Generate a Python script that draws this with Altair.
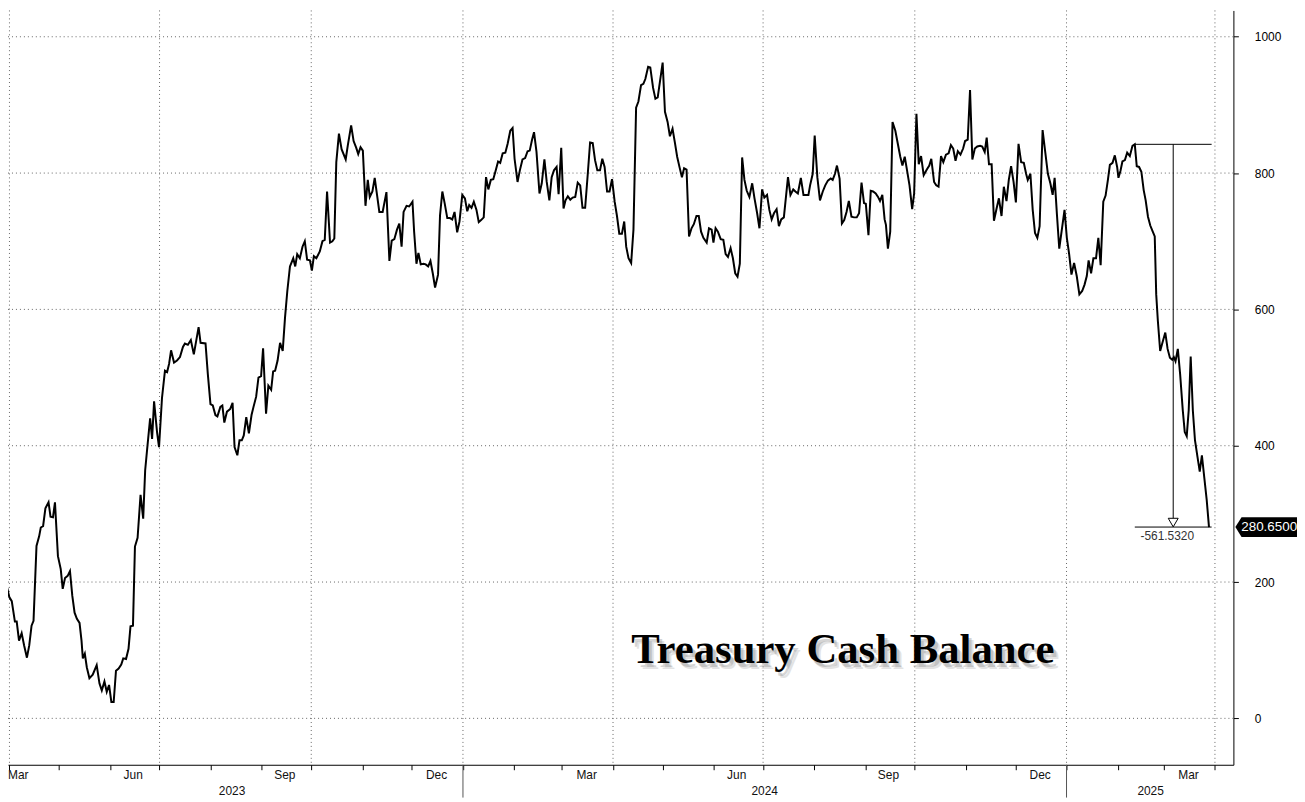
import altair as alt
import pandas as pd

# ---------------- data ----------------
START = pd.Timestamp("2023-03-26 07:00")

day_offset = [
    0.0, 1.0, 2.8, 4.0, 5.6, 7.1, 9.0, 10.1, 11.5, 13.1, 14.6, 16.3, 17.7, 19.1, 20.3, 22.1, 23.7, 24.7, 26.1, 27.5,
    29.4, 30.6, 32.1, 33.3, 35.1, 36.8, 38.0, 39.4, 41.0, 42.4, 43.8, 45.2, 46.6, 48.2, 49.4, 50.2, 51.4, 52.6, 54.2, 56.2,
    58.6, 60.3, 61.7, 63.3, 64.7, 66.1, 67.5, 68.9, 70.3, 71.9, 73.5, 74.7, 76.4, 77.9, 79.1, 80.6, 81.8, 83.4, 85.2, 86.8,
    88.0, 89.2, 91.0, 92.2, 93.4, 95.2, 96.4, 98.2, 100.0, 101.3, 102.5, 103.7, 105.5, 107.3, 109.1, 110.9, 112.1, 113.9, 115.7, 117.5,
    120.4, 121.6, 124.6, 126.0, 127.6, 129.0, 130.6, 131.8, 133.6, 134.8, 136.0, 137.6, 139.6, 141.0, 142.2, 143.9, 145.2, 146.6, 147.8, 149.3,
    150.9, 152.5, 153.7, 155.3, 156.7, 158.3, 159.5, 161.3, 162.7, 164.4, 165.6, 166.8, 168.3, 169.8, 171.4, 172.8, 174.2, 175.8, 177.8, 179.0,
    180.2, 181.8, 183.4, 184.8, 186.2, 187.9, 189.1, 190.3, 191.8, 193.9, 195.5, 196.9, 198.3, 200.1, 201.5, 202.7, 203.9, 205.5, 207.1, 209.6,
    210.9, 212.9, 214.4, 216.0, 217.2, 218.6, 220.0, 221.6, 223.0, 224.2, 225.8, 227.2, 228.6, 230.0, 232.0, 234.3, 236.1, 237.5, 239.1, 240.7,
    242.1, 243.5, 244.7, 246.5, 248.1, 250.1, 251.1, 252.5, 253.7, 255.1, 256.8, 258.1, 259.6, 261.0, 262.4, 263.8, 265.6, 266.8, 268.2, 269.6,
    271.2, 272.8, 274.2, 275.6, 277.2, 278.6, 280.3, 281.9, 283.3, 284.5, 285.9, 287.3, 288.9, 290.3, 291.7, 293.3, 294.7, 296.1, 297.6, 299.1,
    300.6, 302.0, 303.3, 304.8, 306.4, 307.8, 309.4, 310.8, 312.0, 313.8, 315.2, 316.8, 318.4, 319.9, 321.2, 322.6, 323.8, 325.3, 327.1, 328.5,
    330.1, 331.5, 333.1, 334.5, 335.9, 337.5, 338.7, 340.3, 341.7, 342.9, 344.3, 345.8, 347.2, 348.8, 350.3, 351.8, 353.2, 354.8, 356.4, 357.8,
    359.4, 360.8, 362.2, 363.8, 365.2, 366.6, 368.1, 369.6, 371.1, 372.7, 374.1, 375.5, 377.1, 378.5, 379.7, 381.1, 382.7, 384.1, 385.7, 387.1,
    388.7, 390.1, 391.3, 393.0, 394.3, 396.0, 397.4, 398.8, 400.2, 401.8, 403.2, 404.8, 406.2, 407.8, 409.2, 410.6, 412.1, 413.5, 414.8, 416.3,
    417.8, 419.3, 420.7, 422.3, 423.7, 425.1, 426.5, 428.5, 429.9, 431.5, 432.6, 433.9, 435.3, 437.0, 438.6, 440.0, 441.4, 443.0, 444.4, 445.8,
    447.2, 448.6, 450.0, 451.4, 452.8, 454.4, 456.1, 457.5, 459.1, 460.5, 462.1, 463.5, 465.1, 466.5, 467.9, 469.3, 470.9, 472.3, 473.7, 475.3,
    477.8, 479.3, 481.0, 482.3, 483.8, 485.6, 487.2, 488.6, 490.2, 491.2, 492.8, 494.0, 495.6, 497.2, 498.9, 500.4, 502.0, 503.7, 504.9, 506.3,
    507.5, 509.1, 510.5, 511.9, 513.3, 514.7, 516.3, 517.9, 519.5, 520.9, 522.4, 523.9, 525.0, 526.6, 528.0, 529.4, 531.0, 532.4, 533.6, 535.0,
    536.4, 537.2, 538.4, 539.8, 541.2, 542.9, 544.4, 545.9, 547.2, 548.6, 549.8, 551.5, 553.1, 554.3, 555.7, 557.1, 558.5, 560.1, 561.9, 563.5,
    564.7, 566.4, 567.7, 569.1, 570.6, 572.0, 573.6, 575.2, 576.6, 578.0, 579.4, 580.8, 582.4, 584.0, 585.2, 586.8, 588.2, 589.6, 591.1, 592.6,
    594.3, 595.6, 597.1, 598.3, 599.7, 601.3, 602.7, 604.3, 605.7, 607.3, 608.7, 610.3, 611.7, 613.1, 614.6, 616.0, 617.6, 619.2, 620.8, 622.2,
    623.2, 624.8, 626.2, 627.6, 629.0, 630.4, 632.2, 633.9, 635.4, 636.9, 638.3, 639.5, 640.9, 642.3, 643.7, 645.5, 646.9, 648.3, 649.7, 651.3,
    652.9, 654.5, 656.2, 657.6, 659.0, 660.1, 661.6, 663.0, 664.6, 666.0, 667.4, 669.0, 670.4, 671.8, 673.0, 674.6, 676.0, 677.4, 678.2, 679.4,
    680.6, 682.1, 683.5, 685.1, 686.7, 688.1, 689.3, 690.7, 692.1, 693.5, 694.7, 696.1, 697.5, 699.0, 700.2, 701.1, 702.1, 703.5, 705.2, 706.6,
    708.0, 709.4, 710.8, 711.8, 712.8, 714.2, 715.6, 717.2, 718.4, 719.6, 720.8, 722.0, 723.3, 724.6, 726.1, 727.5, 728.8, 730.3, 731.7, 733.1,
]

cash_balance = [
    200, 166, 165, 195, 178, 172, 142, 142, 114, 125, 107, 89, 107, 136, 143, 253, 267, 280, 282, 308,
    317, 296, 295, 317, 238, 219, 190, 206, 209, 216, 180, 155, 146, 140, 114, 88, 95, 75, 59, 64,
    78, 51, 41, 54, 39, 49, 24, 24, 70, 73, 79, 88, 87, 102, 135, 136, 252, 265, 328, 293,
    364, 395, 440, 410, 465, 420, 398, 470, 510, 508, 520, 540, 522, 525, 530, 545, 550, 548, 555, 534,
    574, 551, 550, 505, 461, 459, 445, 443, 457, 459, 434, 450, 454, 463, 398, 386, 408, 408, 415, 442,
    418, 445, 457, 472, 500, 502, 543, 447, 488, 482, 509, 510, 525, 551, 539, 588, 627, 663, 675, 663,
    681, 675, 692, 700, 673, 672, 657, 678, 675, 685, 700, 702, 773, 698, 700, 704, 816, 858, 835, 820,
    841, 870, 847, 837, 828, 838, 833, 752, 790, 765, 773, 793, 768, 743, 743, 772, 671, 701, 703, 717,
    726, 692, 743, 752, 751, 758, 714, 667, 683, 666, 667, 666, 663, 671, 653, 632, 651, 738, 773, 756,
    734, 734, 732, 743, 713, 729, 768, 763, 744, 753, 749, 758, 746, 728, 731, 735, 794, 776, 790, 791,
    804, 817, 815, 829, 830, 843, 862, 866, 821, 787, 804, 820, 822, 832, 833, 849, 860, 831, 770, 785,
    820, 787, 760, 794, 804, 809, 769, 837, 748, 760, 766, 761, 764, 765, 786, 782, 749, 749, 799, 845,
    844, 819, 804, 804, 821, 809, 773, 773, 791, 758, 737, 711, 711, 729, 692, 675, 668, 717, 896, 905,
    929, 931, 938, 956, 955, 925, 909, 911, 935, 962, 890, 875, 854, 865, 845, 824, 808, 794, 807, 805,
    707, 719, 725, 737, 737, 714, 705, 698, 719, 717, 698, 719, 714, 703, 702, 681, 677, 690, 675, 653,
    648, 667, 823, 790, 774, 765, 785, 763, 741, 719, 776, 764, 768, 746, 732, 741, 747, 722, 732, 735,
    794, 768, 776, 773, 770, 793, 768, 768, 768, 782, 799, 855, 794, 760, 773, 782, 789, 792, 790, 799,
    811, 792, 726, 731, 743, 759, 736, 735, 735, 741, 786, 756, 755, 709, 774, 773, 770, 765, 759, 768,
    732, 724, 689, 714, 875, 862, 843, 824, 811, 824, 807, 782, 747, 770, 887, 813, 825, 797, 805, 811,
    821, 787, 782, 780, 825, 816, 827, 829, 841, 836, 818, 832, 827, 836, 847, 849, 922, 820, 836, 839,
    840, 839, 831, 852, 813, 813, 730, 748, 763, 737, 780, 759, 790, 810, 787, 757, 843, 816, 815, 799,
    790, 799, 746, 712, 705, 722, 863, 829, 799, 785, 768, 793, 739, 689, 714, 746, 705, 681, 651, 668,
    649, 622, 627, 636, 649, 672, 653, 675, 675, 705, 665, 758, 767, 790, 812, 815, 826, 809, 793, 803,
    817, 819, 830, 825, 840, 842.182, 810, 809, 802, 775, 760, 736, 723, 714, 707, 622, 583, 539, 554, 566,
    542, 529, 526, 530, 524, 542, 505, 452, 420, 414, 452, 531, 452, 408, 384, 362, 386, 352, 321, 280.65,
]

grid_values = [0, 200, 400, 600, 800, 1000]
quarter_starts = ["2023-04-01", "2023-07-01", "2023-10-01", "2024-01-01", "2024-04-01",
                  "2024-07-01", "2024-10-01", "2025-01-01", "2025-04-01"]
month_labels = ["Jun", "Sep", "Dec", "Mar", "Jun", "Sep", "Dec", "Mar"]
month_label_dates = ["2023-06-15", "2023-09-15", "2023-12-16", "2024-03-16", "2024-06-15",
                     "2024-09-15", "2024-12-16", "2025-03-16"]
first_month_label = "Mar"
year_labels = ["2023", "2024", "2025"]
year_label_dates = ["2023-08-14", "2024-07-02", "2025-02-21"]
year_breaks = ["2024-01-01", "2025-01-01"]
drop_label = "-561.5320"
last_label = "280.6500"
title_text = "Treasury Cash Balance"

# ---------------- tables ----------------
fmt = "%Y-%m-%dT%H:%M:%S"
dates = [(START + pd.Timedelta(days=d)).strftime(fmt) for d in day_offset]
df = pd.DataFrame({"date": dates, "value": cash_balance})

recent = df.iloc[-60:]                      # the final drawdown leg
peak_i = recent["value"].idxmax()
peak_date = pd.Timestamp(df.loc[peak_i, "date"])
peak_val = df.loc[peak_i, "value"]
last_date = pd.Timestamp(df["date"].iloc[-1])
last_val = df["value"].iloc[-1]
end_date = last_date + pd.Timedelta(days=1.6)
mid_date = peak_date + (end_date - peak_date) / 2

hlines = pd.DataFrame({"x0": [peak_date.strftime(fmt)] * 2, "x1": [end_date.strftime(fmt)] * 2,
                       "v": [peak_val, last_val]})
arrow = pd.DataFrame({"x": [mid_date.strftime(fmt)], "v0": [peak_val], "v1": [last_val], "t": [drop_label]})
lastpt = pd.DataFrame({"v": [last_val], "t": [last_label]})


def dt(ts):
    ts = pd.Timestamp(ts)
    return alt.DateTime(year=ts.year, month=ts.month, date=ts.day, hours=ts.hour, minutes=ts.minute)


x_lo = START + pd.Timedelta(days=4.82)
x_hi = START + pd.Timedelta(days=747.9)
xscale = alt.Scale(domain=[dt(x_lo), dt(x_hi)])
yscale = alt.Scale(domain=[-68.1, 1038.6], nice=False, zero=False)

month_ticks = [dt(t) for t in pd.date_range("2023-04-01", "2025-04-01", freq="MS")]

FONT = "Liberation Sans"
W, H = 1233, 759

xaxis = alt.Axis(values=month_ticks, labels=False, ticks=True, tickSize=5, grid=False, title=None,
                 domain=True, domainColor="black", tickColor="black", domainWidth=1, tickWidth=1)
yaxis = alt.Axis(orient="right", values=grid_values, format="d", tickSize=5, grid=False, title=None,
                 domain=True, domainColor="black", tickColor="black", labelFont=FONT, labelFontSize=12,
                 labelColor="black", labelPadding=16, labelAlign="left")


def X(field):
    return alt.X(field, scale=xscale, axis=xaxis, title=None)


def Y(field):
    return alt.Y(field, scale=yscale, axis=yaxis, title=None)


hgrid = alt.Chart(pd.DataFrame({"v": grid_values})).mark_rule(
    color="#666", strokeDash=[1, 3], strokeWidth=1
).encode(y=Y("v:Q"))

vgrid = alt.Chart(pd.DataFrame({"d": quarter_starts})).mark_rule(
    color="#666", strokeDash=[1, 3], strokeWidth=1
).encode(x=X("d:T"))

line = alt.Chart(df).mark_line(color="black", strokeWidth=2, clip=True).encode(
    x=X("date:T"), y=Y("value:Q")
)

hl = alt.Chart(hlines).mark_rule(color="black", strokeWidth=1).encode(
    x=X("x0:T"), x2="x1:T", y=Y("v:Q")
)
vl = alt.Chart(arrow).mark_rule(color="black", strokeWidth=1, y2Offset=-9).encode(
    x=X("x:T"), y=Y("v0:Q"), y2="v1:Q"
)
tri = alt.Chart(arrow).mark_point(shape="triangle-down", filled=False, stroke="black", strokeWidth=1,
                                  size=100, opacity=1, yOffset=-4.5).encode(
    x=X("x:T"), y=Y("v1:Q")
)
drop_txt = alt.Chart(arrow).mark_text(font=FONT, fontSize=12, color="#333", baseline="top", dy=4, dx=-6).encode(
    x=X("x:T"), y=Y("v1:Q"), text="t:N"
)

box = alt.Chart(lastpt).mark_point(
    shape="M-1,0L-0.8,-0.32L1,-0.32L1,0.32L-0.8,0.32Z", filled=True, fill="black",
    size=3844, opacity=1, strokeWidth=0
).encode(x=alt.value(1266), y=Y("v:Q"))
box_txt = alt.Chart(lastpt).mark_text(font=FONT, fontSize=13.5, color="white", baseline="middle",
                                      align="center").encode(
    x=alt.value(1269), y=Y("v:Q"), text="t:N"
)

mlab = alt.Chart(pd.DataFrame({"d": month_label_dates, "t": month_labels})).mark_text(
    font=FONT, fontSize=12, color="#111", baseline="middle", align="center"
).encode(x=X("d:T"), y=alt.value(769), text="t:N")
mlab0 = alt.Chart(pd.DataFrame({"t": [first_month_label]})).mark_text(
    font=FONT, fontSize=12, color="#111", baseline="middle", align="left"
).encode(x=alt.value(0), y=alt.value(769), text="t:N")
ylab = alt.Chart(pd.DataFrame({"d": year_label_dates, "t": year_labels})).mark_text(
    font=FONT, fontSize=12, color="#111", baseline="middle", align="center"
).encode(x=X("d:T"), y=alt.value(785), text="t:N")
ysep = alt.Chart(pd.DataFrame({"d": year_breaks})).mark_rule(color="#555", strokeWidth=1).encode(
    x=X("d:T"), y=alt.value(H), y2=alt.value(H + 33)
)

tdf = pd.DataFrame({"t": [title_text]})
shadows = []
for off, op in [((5, 6), 0.2), ((3, 4), 0.3)]:
    shadows.append(alt.Chart(tdf).mark_text(
        font="Liberation Serif", fontWeight="bold", fontSize=43, color="#777", opacity=op,
        align="center", baseline="alphabetic", dx=off[0], dy=off[1]
    ).encode(x=alt.value(840), y=alt.value(657), text="t:N"))
title = alt.Chart(tdf).mark_text(
    font="Liberation Serif", fontWeight="bold", fontSize=43, color="black",
    align="center", baseline="alphabetic"
).encode(x=alt.value(840), y=alt.value(657), text="t:N")

chart = alt.layer(
    hgrid, vgrid, line, hl, vl, tri, drop_txt, box, box_txt, mlab, mlab0, ylab, ysep, *shadows, title
).properties(
    width=W, height=H,
    autosize=alt.AutoSizeParams(type="none"),
    padding={"left": 0, "top": 0, "right": 64, "bottom": 35},
    background="white",
).configure_view(strokeWidth=0)

chart.save("out.html", embed_options={"renderer": "svg", "actions": False})
